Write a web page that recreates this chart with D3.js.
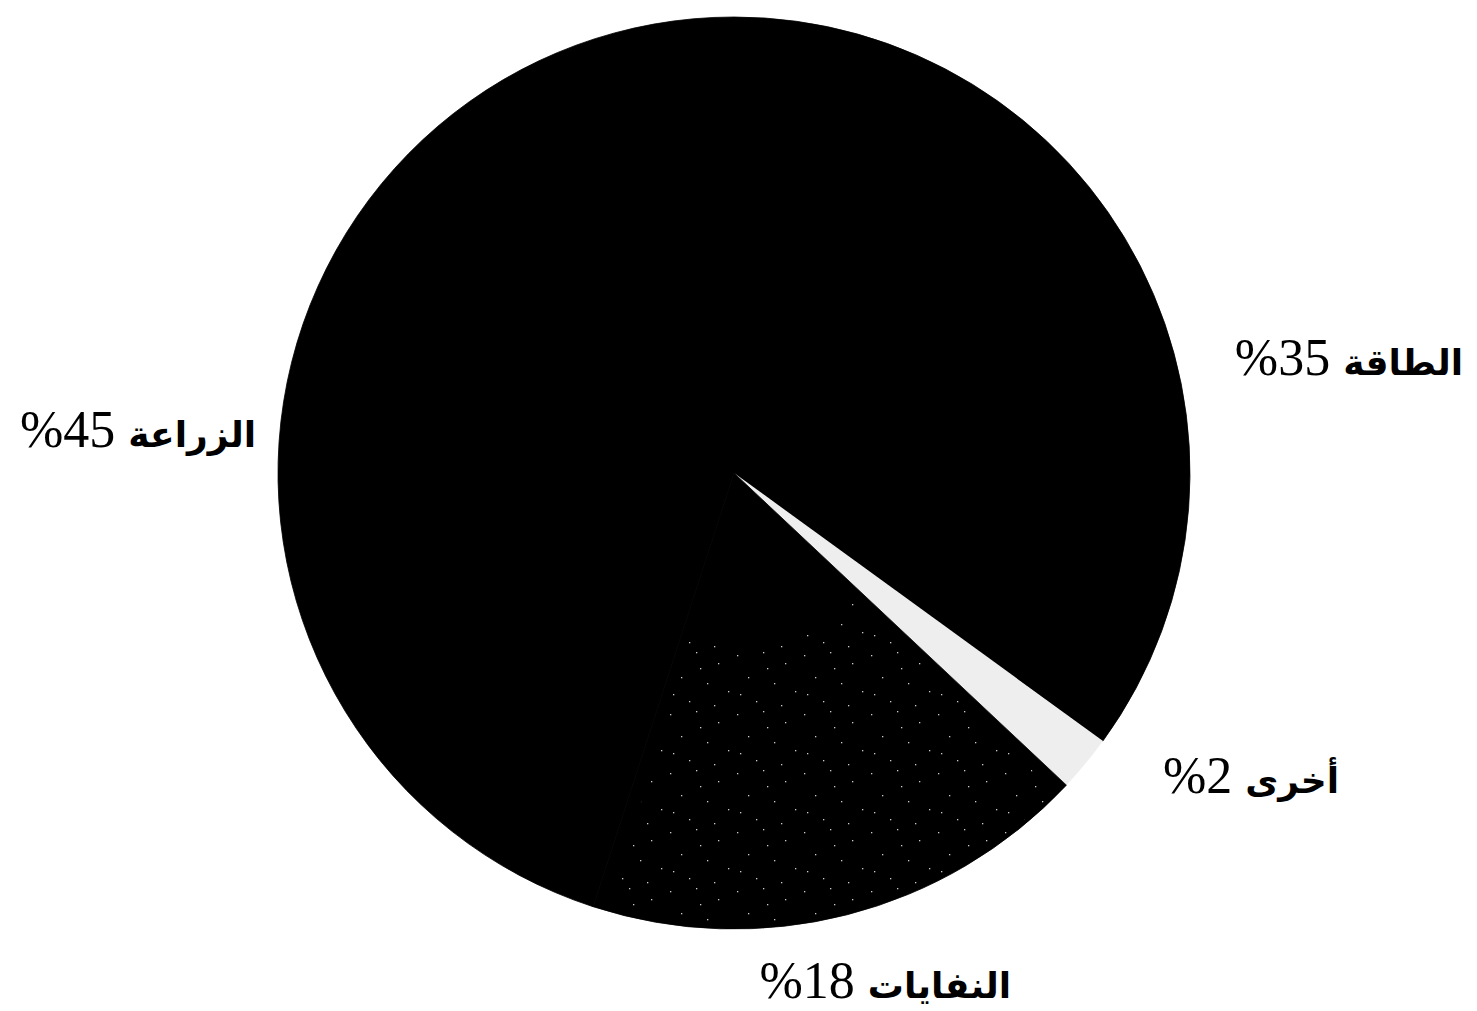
<!DOCTYPE html>
<html>
<head>
<meta charset="utf-8">
<script src="https://cdn.jsdelivr.net/npm/d3@7"></script>
<style>
  html, body { margin: 0; padding: 0; background: #fff; }
  svg { display: block; }
</style>
</head>
<body>
<div id="chart"></div>
<script>
// ---- Data ----
const categories = ['الطاقة', 'أخرى', 'النفايات', 'الزراعة'];
const shares = [35, 2, 18, 45];

// ---- Layout ----
const width = 1477, height = 1011;
const cx = 734, cy = 473, radius = 456;
const fills = ['#000000', '#eeeeee', '#000000', '#000000'];
// label anchors (right end of text, baseline), relative to pie centre
const labelPos = [
  { dx: 729, dy: -98 },
  { dx: 605, dy: 320 },
  { dx: 277, dy: 525 },
  { dx: -478, dy: -26 }
];

const svg = d3.select('#chart').append('svg')
  .attr('width', width).attr('height', height);

const defs = svg.append('defs');
// sparse white stipple for the waste slice
const pat = defs.append('pattern').attr('id', 'stipple')
  .attr('patternUnits', 'userSpaceOnUse').attr('width', 67).attr('height', 59);
[[3, 5], [29, 2], [51, 13], [14, 27], [40, 33], [61, 41], [22, 51], [47, 55], [6, 44], [33, 18]].forEach(([x, y]) => {
  pat.append('rect').attr('x', x).attr('y', y).attr('width', 1.3).attr('height', 1.3).attr('fill', '#fff');
});

const g = svg.append('g').attr('transform', `translate(${cx},${cy})`);

const pie = d3.pie().sort(null).value(d => d);
const arcs = pie(shares);
const arc = d3.arc().innerRadius(0).outerRadius(radius);

g.selectAll('path.slice').data(arcs).join('path')
  .attr('class', 'slice')
  .attr('d', arc)
  .attr('fill', (d, i) => fills[i])
  .attr('stroke', (d, i) => fills[i] === '#000000' ? '#000' : 'none')
  .attr('stroke-width', 0.8);

// stipple overlay on outer part of waste
const stippleArc = d3.arc().innerRadius(radius * 0.38).outerRadius(radius - 4);
g.append('path')
  .attr('d', stippleArc({ startAngle: arcs[2].startAngle + 0.03, endAngle: arcs[2].endAngle - 0.04 }))
  .attr('fill', 'url(#stipple)')
  .attr('opacity', 0.8);

// labels
const labels = svg.append('g');
arcs.forEach((d, i) => {
  const t = labels.append('text')
    .attr('x', cx + labelPos[i].dx)
    .attr('y', cy + labelPos[i].dy)
    .attr('text-anchor', 'end')
    .attr('fill', '#000');
  t.append('tspan')
    .style('font-family', 'Liberation Serif, serif')
    .style('font-size', '52px')
    .text(`%${shares[i]} `);
  t.append('tspan')
    .style('font-family', 'DejaVu Sans, sans-serif')
    .style('font-weight', 'bold')
    .style('font-size', '36px')
    .text(categories[i]);
});
</script>
</body>
</html>
